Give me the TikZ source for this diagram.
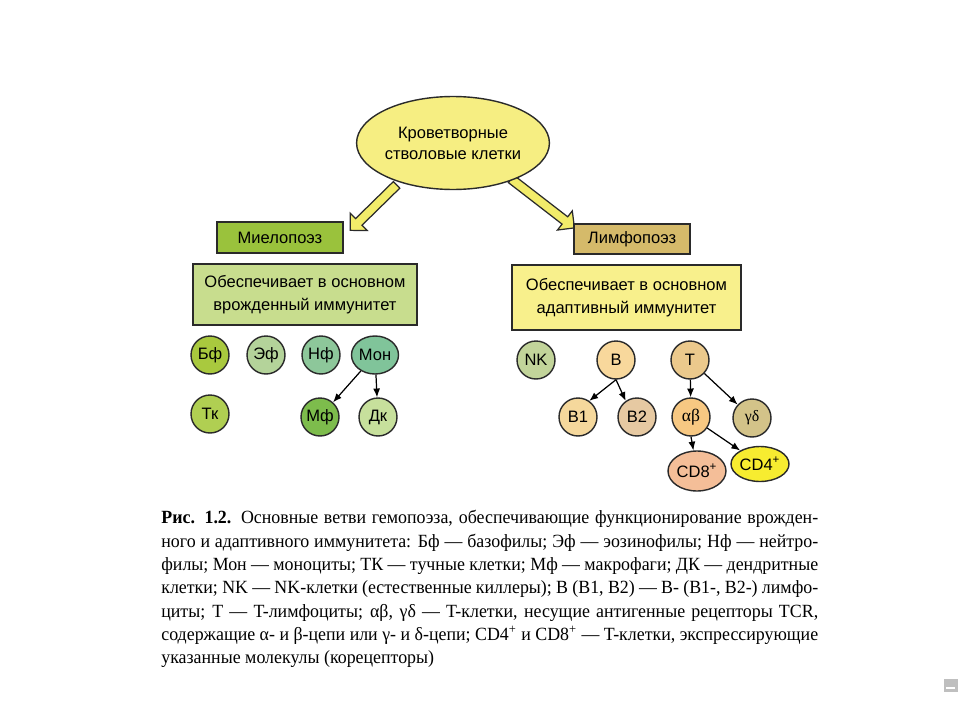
\documentclass[tikz,border=0pt]{standalone}
\usepackage{fontspec}
\setmainfont{Liberation Serif}
\setsansfont{Liberation Sans}
\newfontfamily\capfont[FakeStretch=0.96]{Liberation Serif}
\usetikzlibrary{shapes.geometric,shapes.arrows,arrows.meta}
\definecolor{ellY}{HTML}{F6EE82}
\definecolor{arrY}{HTML}{F2EC6A}
\definecolor{mieG}{HTML}{9AC23C}
\definecolor{limT}{HTML}{D5BA6A}
\definecolor{boxG}{HTML}{C8DD8E}
\definecolor{boxY}{HTML}{F8F08C}
\definecolor{cBf}{HTML}{A9C93E}
\definecolor{cEf}{HTML}{B4D39A}
\definecolor{cNf}{HTML}{8DC79A}
\definecolor{cMon}{HTML}{80C49A}
\definecolor{cTk}{HTML}{B0CF52}
\definecolor{cMf}{HTML}{7DBC4C}
\definecolor{cDk}{HTML}{C7E09C}
\definecolor{cNK}{HTML}{C2D49A}
\definecolor{cB}{HTML}{F8D89C}
\definecolor{cT}{HTML}{EBC98C}
\definecolor{cBa}{HTML}{F5D89C}
\definecolor{cBb}{HTML}{E6C9A2}
\definecolor{cAB}{HTML}{F7C882}
\definecolor{cGD}{HTML}{D3C389}
\definecolor{cCDe}{HTML}{F4BE98}
\definecolor{cCDf}{HTML}{F7EC30}
\definecolor{outl}{HTML}{2A2A2A}
\begin{document}
\begin{tikzpicture}[x=0.02cm,y=-0.02cm,
  lbl/.style={font=\sffamily\fontsize{9.4}{11}\selectfont},
  cell/.style={circle,draw=outl,line width=0.8pt,minimum size=0.76cm,inner sep=0pt,lbl},
  oval/.style={ellipse,draw=outl,line width=0.8pt,inner sep=0pt,lbl},
  rbox/.style={rectangle,draw=outl,line width=0.9pt,inner sep=0pt,lbl,align=center},
  blockarrow/.style={single arrow,draw=outl,fill=arrY,line width=0.7pt,inner sep=0.08cm,
     single arrow head extend=0.15cm,single arrow head indent=0pt,shape border uses incircle=false},
  link/.style={-{Latex[length=5pt,width=4pt]},line width=0.7pt,black}]
\fill[white] (0,0) rectangle (960,720);
\useasboundingbox (0,0) rectangle (960,720);

% block arrows (drawn first so the ellipse covers their tails)
\node[blockarrow,minimum height=1.3cm,rotate=224.4] (arL) at (375,206) {};
\node[blockarrow,minimum height=1.6cm,rotate=-37.7] (arR) at (541,202) {};

% stem cells
\node[oval,fill=ellY,minimum width=3.2cm,minimum height=1.86cm,align=center] (hsc) at (453,143)
  {Кроветворные\\[1pt]стволовые клетки};

% branch boxes
\node[rbox,fill=mieG,minimum width=2.52cm,minimum height=0.62cm] (mie) at (280,237.5) {Миелопоэз};
\node[rbox,fill=limT,minimum width=2.32cm,minimum height=0.6cm] (lim) at (632,239) {Лимфопоэз};
\node[rbox,fill=boxG,minimum width=4.48cm,minimum height=1.22cm] (innate) at (305,294.5)
  {Обеспечивает в основном\\[2pt]врожденный иммунитет};
\node[rbox,fill=boxY,minimum width=4.58cm,minimum height=1.3cm] (adapt) at (626.5,297.5)
  {Обеспечивает в основном\\[2pt]адаптивный иммунитет};

% myeloid cells
\node[cell,fill=cBf] (bf) at (210,355) {Бф};
\node[cell,fill=cEf] (ef) at (266,355) {Эф};
\node[cell,fill=cNf] (nf) at (321,355) {Нф};
\node[oval,fill=cMon,minimum width=0.94cm,minimum height=0.76cm] (mon) at (375,355) {Мон};
\node[cell,fill=cTk] (tk) at (210,414) {Тк};
\node[cell,fill=cMf] (mf) at (320,417) {Мф};
\node[cell,fill=cDk] (dk) at (378,417) {Дк};
\draw[link] (mon) -- (mf);
\draw[link] (mon) -- (dk);

% lymphoid cells
\node[cell,fill=cNK] (nk) at (536,360) {NK};
\node[cell,fill=cB] (b) at (616,360) {B};
\node[cell,fill=cT] (t) at (690,360) {T};
\node[cell,fill=cBa] (b1) at (578,417) {B1};
\node[cell,fill=cBb] (b2) at (637,417) {B2};
\node[cell,fill=cAB,font=\rmfamily\fontsize{10}{12}\selectfont] (ab) at (691,417) {αβ};
\node[cell,fill=cGD,font=\rmfamily\fontsize{9}{11}\selectfont] (gd) at (752,418) {γδ};
\node[oval,fill=cCDe,minimum width=1.16cm,minimum height=0.8cm] (cd8) at (697,471) {CD8\textsuperscript{+}};
\node[oval,fill=cCDf,minimum width=1.16cm,minimum height=0.7cm] (cd4) at (760,464) {CD4\textsuperscript{+}};
\draw[link] (b.south) -- (b1.55);
\draw[link] (b.south) -- (b2.125);
\draw[link] (t) -- (ab);
\draw[link] (t) -- (gd);
\draw[link] (ab.south) -- (cd8);
\draw[link] (ab) -- (cd4);

% caption
\node[anchor=north west,inner sep=0pt,text width=13.14cm,align=justify,
  font=\capfont\fontsize{10.6}{13.3}\selectfont] (cap) at (161,510)
{\textbf{Рис. 1.2.} Основные ветви гемопоэза, обеспечивающие функционирование врожден-\linebreak
ного и адаптивного иммунитета: Бф — базофилы; Эф — эозинофилы; Нф — нейтро-\linebreak
филы; Мон — моноциты; ТК — тучные клетки; Мф — макрофаги; ДК — дендритные\linebreak
клетки; NK — NK-клетки (естественные киллеры); B (B1, B2) — B- (B1-, B2-) лимфо-\linebreak
циты; T — T-лимфоциты; αβ, γδ — T-клетки, несущие антигенные рецепторы TCR,\linebreak
содержащие α- и β-цепи или γ- и δ-цепи; CD4\textsuperscript{+} и CD8\textsuperscript{+} — T-клетки, экспрессирующие\linebreak
указанные молекулы (корецепторы)\par};

% small corner mark
\node[rectangle,fill=black!25,minimum width=0.28cm,minimum height=0.26cm,inner sep=0pt] (mark) at (951,685.5) {};
\draw[white,line width=0.8pt] ([xshift=-0.1cm,yshift=-0.05cm]mark.center) -- ([xshift=0.08cm,yshift=-0.05cm]mark.center);
\end{tikzpicture}
\end{document}
